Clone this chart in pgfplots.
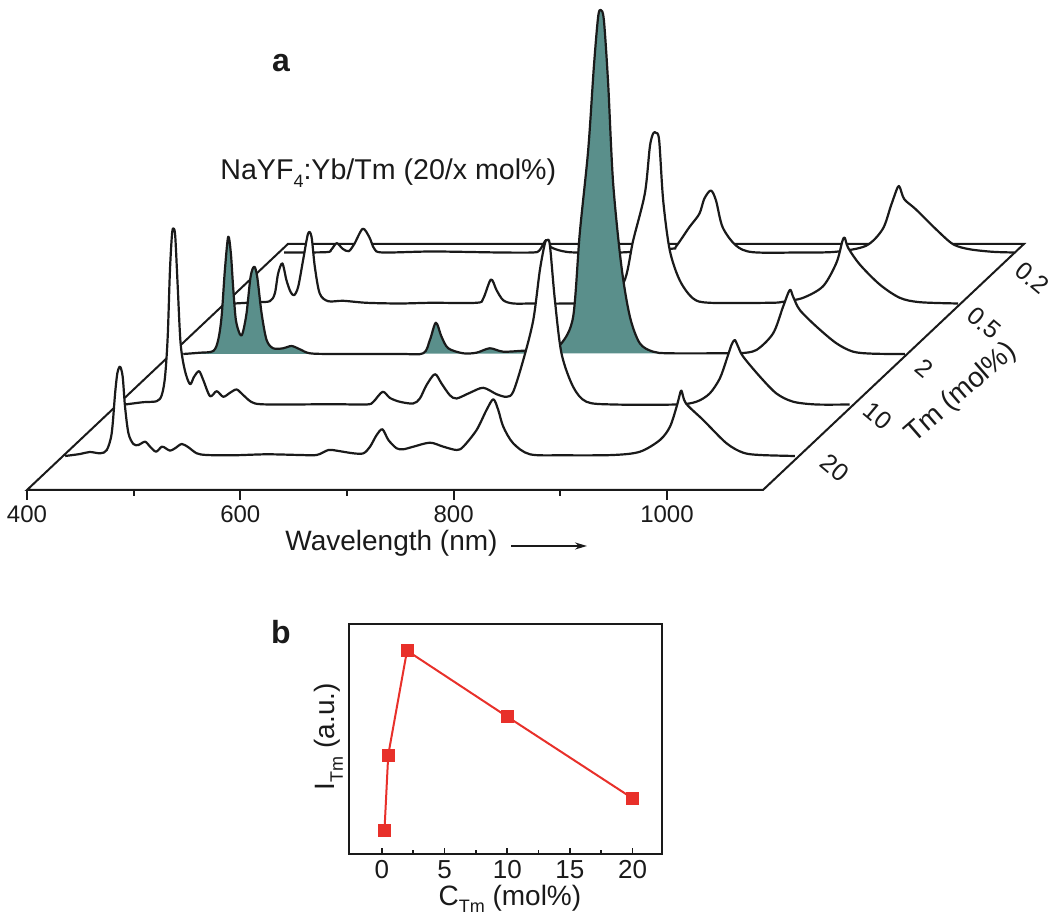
\documentclass[border=0pt]{standalone}
\usepackage{pgfplots}
\usepackage{pgfplotstable}
\usepackage{fontspec}
\usetikzlibrary{arrows.meta}
\setmainfont{Liberation Sans}
\pgfplotsset{compat=1.18}
\definecolor{ink}{HTML}{1A1A1A}
\definecolor{tealf}{HTML}{5A8F8B}
\definecolor{redl}{HTML}{E8302A}
\newcommand\fs[1]{\fontsize{#1}{#1}\selectfont}
\newcommand\subt[1]{\raisebox{-.28em}{\fs{9}#1}}
\newcommand\PX[2]{({#1*0.5pt},{(915-#2)*0.5pt})}

\pgfplotstableread{
nm I
402 0
416 2
425 4
435 2.7
441 6
445.6 22.7
448.8 62.7
450.9 82.7
453.4 89.3
455.9 79.3
458.1 49.3
461.3 22.7
465.9 12
470.6 11
476.9 14.3
481.6 9.3
487.2 4.3
492.5 9.3
496.3 7.7
500.3 5.3
505 7.7
511.3 12
517.5 8.7
525.3 2.7
534.7 1
559.7 0.7
591 1.7
622 1
637.8 1
648.8 6
656.6 5.3
672 2.7
681.6 2.7
687.8 9.3
694 21
699.4 26.7
705 16
712.7 7.7
719 6.7
728.4 9.3
744 13.3
756.5 9.3
769 6
775.2 9.3
787.7 26
797 46
803.4 56.7
808 46
812.7 29.3
822 12.7
837.7 1.7
869 0.7
915.9 1
940.9 4.3
959.6 16
969 29.3
975.2 49.3
977.6 59
979.8 65.3
983.9 52.7
1000.1 36
1022 12.7
1037.6 3.3
1053.3 1
1086 0
}\rowTwenty

\pgfplotstableread{
nm I
407 0
424 2.3
436.6 3.3
441.3 9.3
444.4 27.7
446.9 67.7
449 134
451 171
452.5 176
454 167.7
456.3 117.7
459 61
463 34
467.8 20.3
471.6 27.7
476.3 33.3
480.3 24.3
486.6 8.3
492.8 13.3
499 7.7
505.3 11.7
511.6 15
517.8 9.3
528.8 1
555.3 0
602 0.3
633.4 0
639.7 2.7
648.4 12.7
655.3 6.5
664.6 2.7
677 1
683.3 6
689.5 19.3
697.4 30.3
703.6 21
711.4 9.3
717.7 6
730.2 11.7
742.7 16.7
755.2 10.3
764.6 7.7
770.8 12.7
780.2 44.3
789.6 84.3
795.8 134.3
800.5 161
802.7 164.3
805.2 159.3
809.9 104.3
816.1 51
827 17.7
839.5 2.7
864.5 0
923.9 0
942.6 2.8
955 11
964.5 26
970.7 44.5
975.4 59.5
978.5 64.5
981.6 58
986.3 48
1002 28
1017.6 11
1033.2 2.8
1055 0
1086.3 0
}\rowTen

\pgfplotstableread{
nm I
411.3 0
426.9 1.3
439.4 3
444 14
447.2 37.3
450.3 84
453.4 117.3
455.9 100.7
458 67.3
460.6 34
464.4 19.7
466.9 20.7
470.6 40.7
474.4 77.3
477.8 87.3
480.6 77.3
484.7 40.7
489.4 14
495.6 5.7
505 5.7
512.8 8
520.6 4.7
530 0.7
551.9 0
614 0
636.2 0.7
642.5 14
648.1 31.3
653.4 17.3
659.7 5.7
673.7 0.7
686.2 1.3
698.7 5.7
711.2 2.3
730 3.3
755 5
765.9 10.7
776.8 37.3
783 120.7
790.9 204
796.2 287
800.2 337
802.7 344
805.6 334
809.6 270.7
814.3 170.7
822.1 87.3
830 37.3
839.3 10.7
851.8 2.3
867.4 0.7
920.6 0.7
933 0.7
948.6 4
964.3 20.7
973.6 47.3
979.9 64
983 57.3
989.3 44
1005 27.3
1023.6 10.7
1039.3 2.3
1058 0.3
1087.7 0
}\rowTwo

\pgfplotstableread{
nm I
409.4 0
429.7 1.3
442.2 2.3
446.9 10
450 30
454 40
457.8 23.3
461.6 11.7
465 8.3
468.8 16.7
473.4 43.3
478.1 70
481.3 66.7
484.4 36.7
489 10
496.9 2.3
510.9 2.7
532.8 0.7
564 0
593.8 0.7
636 0.7
642.3 5
649.5 24
654.8 13.3
661 3.3
670.4 0
689 0
720 0
750 2
773.5 20
782.9 63.3
793.8 110
798.5 156.7
801.6 170
804.1 170.7
807.2 163.3
811 103
817.2 53
826.6 23
839.1 5
854.7 0.7
911 0.7
923.5 1.7
942.2 5.7
960.9 17.3
973.4 40.7
979 62.3
981.2 65.7
984.4 55.7
995.3 39
1014 19
1032.8 5.7
1051.6 1.3
1087.5 0
}\rowHalf

\pgfplotstableread{
nm I
405 0
444 0.3
449 2.7
454.2 9.3
459.8 3.7
465.5 1.3
470.8 8.7
478.6 23.7
484.8 15.3
489.5 3.7
497.3 0
544.2 1
606.7 0
637.9 0
644.2 2
649.5 11.3
651.4 12
655.2 5.3
666 1.3
678.6 0
720 0
767.6 3.7
772.3 6
784.8 25.3
794.2 38.7
798.8 53.7
805 62
809.8 52
816 25.3
828.5 7
844.2 0.3
888 0
922 0.7
950.4 6.7
966 23.3
973.8 46.7
980 65
982.2 65
986.3 53.3
997 43.3
1016 23.3
1032 8.3
1047.2 3.3
1069 0.7
1089 0
}\rowPointTwo

\newcommand\spec[3]{%
  \addplot[fill=#3,draw=none,forget plot,smooth,tension=0.5]
    table[x expr=\thisrow{nm}+0.9943*#2,y expr=\thisrow{I}+#2]{#1} -- cycle;
  \addplot[draw=ink,line width=1.1pt,line join=round,smooth,tension=0.5,no marks]
    table[x expr=\thisrow{nm}+0.9943*#2,y expr=\thisrow{I}+#2]{#1};
}

\begin{document}
\begin{tikzpicture}
\path[use as bounding box] (0,0) rectangle (525pt,457.5pt);

\begin{axis}[
  at={(13.5pt,212.5pt)},anchor=south west,
  scale only axis,width=368pt,height=245pt,
  xmin=400,xmax=1090,ymin=0,ymax=490,
  clip=false,
  axis x line=bottom,axis y line=none,
  axis line style={-,draw=ink,line width=1pt},
  xtick={400,600,800,1000},minor xtick={500,700,900},
  tick align=outside,
  major tick length=5pt,minor tick length=3pt,
  every tick/.style={draw=ink,line width=1pt},
  every minor tick/.style={draw=ink,line width=1pt},
  xticklabel style={font=\fs{12},text=ink,inner sep=0pt,yshift=-2.5pt},
  /pgf/number format/assume math mode=true,
  /pgf/number format/1000 sep={},
]
\addplot[draw=ink,line width=1pt,no marks,forget plot] coordinates
  {(400,0)(1090,0)(1334.6,246)(644.6,246)} -- cycle;
\spec{\rowPointTwo}{237.5}{white}
\spec{\rowHalf}{186.5}{white}
% the 2 mol% row: white under the whole trace, teal under the part up to 867 nm
\addplot[fill=white,draw=none,forget plot,smooth,tension=0.5]
  table[x expr=\thisrow{nm}+0.9943*136,y expr=\thisrow{I}+136]{\rowTwo} -- cycle;
\addplot[fill=tealf,draw=none,forget plot,smooth,tension=0.5,
  restrict x to domain=540:1004]
  table[x expr=\thisrow{nm}+0.9943*136,y expr=\thisrow{I}+136]{\rowTwo} -- cycle;
\addplot[draw=ink,line width=1.1pt,line join=round,smooth,tension=0.5,no marks]
  table[x expr=\thisrow{nm}+0.9943*136,y expr=\thisrow{I}+136]{\rowTwo};
\spec{\rowTen}{85.5}{white}
\spec{\rowTwenty}{34}{white}
\end{axis}

\begin{axis}[
  at={(174.5pt,30.5pt)},anchor=south west,
  scale only axis,width=156.5pt,height=115pt,
  xmin=-2.63,xmax=22.35,ymin=0,ymax=1,
  axis line style={draw=ink,line width=1.25pt},
  xtick={0,5,10,15,20},minor xtick={2.5,7.5,12.5,17.5},ytick=\empty,
  xtick pos=bottom,tick align=inside,
  major tick length=3pt,minor tick length=1.8pt,
  every tick/.style={draw=ink,line width=.8pt},
  every minor tick/.style={draw=ink,line width=.8pt},
  xticklabel style={font=\fs{13},text=ink,inner sep=0pt,yshift=-3pt},
  /pgf/number format/assume math mode=true,
  every axis x label/.style={at={(axis description cs:0.514,-0.222)},anchor=base},
  every axis y label/.style={at={(axis description cs:-0.045,0.51)},rotate=90,anchor=base},
  xlabel={\fs{14}\color{ink}C\subt{Tm} (mol\%)},
  ylabel={\fs{14}\color{ink}I\subt{Tm} (a.u.)},
]
\addplot[draw=redl,line width=1pt,mark=square*,mark size=3pt,
  mark options={fill=redl,draw=redl,line width=0pt}] coordinates
  {(0.2,0.101)(0.5,0.430)(2,0.884)(10,0.597)(20,0.242)};
\end{axis}

\begin{scope}[every node/.style={text=ink,inner sep=0pt}]
\node[anchor=base] at \PX{281}{72} {\fs{16}\bfseries a};
\node[anchor=base] at \PX{281}{644} {\fs{16}\bfseries b};
\node[anchor=base west] at \PX{220}{180} {\fs{14.3}NaYF\subt{4}:Yb/Tm (20/x mol\%)};
\node[anchor=base west] at \PX{285}{551} {\fs{14}Wavelength (nm)};
\node[rotate=-40] at \PX{1032}{278} {\fs{12.5}0.2};
\node[rotate=-40] at \PX{984}{323} {\fs{12.5}0.5};
\node[rotate=-40] at \PX{924}{368} {\fs{12.5}2};
\node[rotate=-40] at \PX{878}{416} {\fs{12.5}10};
\node[rotate=-40] at \PX{835}{468} {\fs{12.5}20};
\node[rotate=41] at \PX{961}{393} {\fs{14}Tm (mol\%)};
\draw[ink,line width=.9pt,-{Stealth[length=6pt,width=3.5pt]}] \PX{511}{546} -- \PX{587}{546};
\end{scope}
\end{tikzpicture}
\end{document}
